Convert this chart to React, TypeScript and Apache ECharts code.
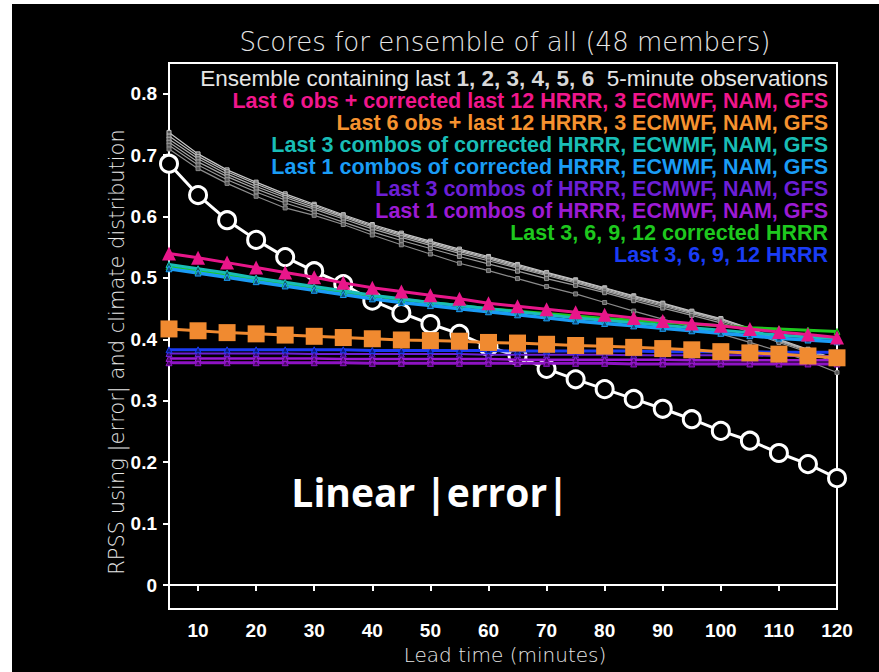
import React, { useEffect, useRef } from "react";
import * as echarts from "echarts";

const leadTimes = [5, 10, 15, 20, 25, 30, 35, 40, 45, 50, 55, 60, 65, 70, 75, 80, 85, 90, 95, 100, 105, 110, 115, 120];
const xTickValues = [10, 20, 30, 40, 50, 60, 70, 80, 90, 100, 110, 120];
const yTickValues = [0, 0.1, 0.2, 0.3, 0.4, 0.5, 0.6, 0.7, 0.8];

const obsOnly = [0.686, 0.635, 0.594, 0.562, 0.534, 0.511, 0.49, 0.463, 0.443, 0.425, 0.409, 0.388, 0.373, 0.352, 0.335, 0.319, 0.303, 0.287, 0.27, 0.251, 0.235, 0.215, 0.197, 0.174];
const ens1 = [0.737, 0.702, 0.676, 0.656, 0.637, 0.62, 0.603, 0.587, 0.573, 0.56, 0.547, 0.535, 0.522, 0.509, 0.497, 0.484, 0.471, 0.459, 0.446, 0.434, 0.418, 0.4, 0.384, 0.367];
const ens2 = [0.731, 0.698, 0.673, 0.653, 0.634, 0.618, 0.601, 0.585, 0.571, 0.558, 0.545, 0.533, 0.52, 0.508, 0.496, 0.483, 0.47, 0.458, 0.445, 0.433, 0.417, 0.399, 0.383, 0.366];
const ens3 = [0.726, 0.694, 0.669, 0.649, 0.631, 0.615, 0.599, 0.583, 0.569, 0.556, 0.543, 0.531, 0.518, 0.506, 0.494, 0.481, 0.468, 0.456, 0.444, 0.432, 0.416, 0.398, 0.382, 0.365];
const ens4 = [0.721, 0.689, 0.665, 0.645, 0.627, 0.612, 0.596, 0.58, 0.566, 0.553, 0.54, 0.528, 0.516, 0.504, 0.492, 0.479, 0.466, 0.454, 0.442, 0.43, 0.414, 0.397, 0.381, 0.364];
const ens5 = [0.716, 0.684, 0.66, 0.64, 0.622, 0.607, 0.591, 0.575, 0.561, 0.548, 0.535, 0.523, 0.511, 0.499, 0.488, 0.476, 0.463, 0.451, 0.439, 0.427, 0.412, 0.395, 0.379, 0.362];
const ens6 = [0.71, 0.678, 0.654, 0.633, 0.614, 0.602, 0.587, 0.57, 0.554, 0.539, 0.524, 0.512, 0.499, 0.486, 0.474, 0.46, 0.446, 0.433, 0.42, 0.409, 0.395, 0.381, 0.365, 0.346];
const obsCorrHrrr = [0.54, 0.533, 0.525, 0.517, 0.509, 0.501, 0.492, 0.484, 0.478, 0.472, 0.466, 0.459, 0.454, 0.449, 0.444, 0.44, 0.435, 0.43, 0.426, 0.422, 0.417, 0.412, 0.408, 0.403];
const obsHrrr = [0.417, 0.414, 0.411, 0.409, 0.407, 0.405, 0.403, 0.401, 0.399, 0.398, 0.397, 0.395, 0.394, 0.392, 0.39, 0.389, 0.387, 0.385, 0.383, 0.38, 0.378, 0.376, 0.373, 0.37];
const last3CorrCombos = [0.522, 0.515, 0.508, 0.5, 0.493, 0.486, 0.479, 0.472, 0.466, 0.46, 0.455, 0.45, 0.445, 0.44, 0.435, 0.431, 0.427, 0.423, 0.419, 0.415, 0.411, 0.407, 0.404, 0.401];
const last1CorrCombos = [0.515, 0.508, 0.501, 0.494, 0.487, 0.48, 0.473, 0.466, 0.46, 0.455, 0.45, 0.445, 0.44, 0.435, 0.43, 0.426, 0.422, 0.418, 0.414, 0.41, 0.406, 0.402, 0.399, 0.396];
const last3Combos = [0.377, 0.377, 0.377, 0.377, 0.377, 0.376, 0.376, 0.376, 0.376, 0.376, 0.376, 0.375, 0.375, 0.375, 0.375, 0.375, 0.374, 0.374, 0.374, 0.374, 0.374, 0.373, 0.373, 0.373];
const last1Combos = [0.369, 0.369, 0.369, 0.369, 0.369, 0.369, 0.368, 0.368, 0.368, 0.368, 0.368, 0.368, 0.367, 0.367, 0.367, 0.367, 0.367, 0.367, 0.366, 0.366, 0.366, 0.366, 0.366, 0.366];
const last1CombosB = [0.362, 0.362, 0.362, 0.362, 0.362, 0.362, 0.362, 0.361, 0.361, 0.361, 0.361, 0.361, 0.361, 0.361, 0.361, 0.361, 0.36, 0.36, 0.36, 0.36, 0.36, 0.36, 0.36, 0.36];
const corrHrrr = [0.518, 0.511, 0.504, 0.497, 0.49, 0.483, 0.477, 0.471, 0.465, 0.46, 0.455, 0.45, 0.446, 0.442, 0.438, 0.434, 0.431, 0.428, 0.425, 0.422, 0.419, 0.417, 0.415, 0.413];
const hrrr = [0.383, 0.383, 0.383, 0.383, 0.383, 0.383, 0.383, 0.382, 0.382, 0.382, 0.382, 0.382, 0.381, 0.381, 0.381, 0.381, 0.381, 0.38, 0.38, 0.38, 0.38, 0.379, 0.379, 0.379];

const legendLines = [
  { text: "Last 6 obs + corrected last 12 HRRR, 3 ECMWF, NAM, GFS", color: "#f0168c" },
  { text: "Last 6 obs + last 12 HRRR, 3 ECMWF, NAM, GFS", color: "#f5922f" },
  { text: "Last 3 combos of corrected HRRR, ECWMF, NAM, GFS", color: "#19bdb6" },
  { text: "Last 1 combos of corrected HRRR, ECWMF, NAM, GFS", color: "#1a9cf5" },
  { text: "Last 3 combos of HRRR, ECMWF, NAM, GFS", color: "#6c1fd6" },
  { text: "Last 1 combos of HRRR, ECMWF, NAM, GFS", color: "#9c1ad4" },
  { text: "Last 3, 6, 9, 12 corrected HRRR", color: "#1ec81e" },
  { text: "Last 3, 6, 9, 12 HRRR", color: "#1a3cf5" },
];

export default function App() {
  const ref = useRef<HTMLDivElement>(null);
  useEffect(() => {
    const chart = echarts.init(ref.current!, undefined, { renderer: "svg" });
    const pts = (d: number[]) => leadTimes.map((t, i) => [t, d[i]]);
    const small = (name: string, d: number[], color: string, dark: string, width: number, z: number) => ({
      type: "line",
      name,
      data: pts(d),
      z,
      symbol: "triangle",
      symbolSize: 6,
      lineStyle: { color, width },
      itemStyle: { color: dark, borderColor: color, borderWidth: 1 },
    });
    const gray = (name: string, d: number[], color: string) => ({
      type: "line",
      name,
      data: pts(d),
      z: 2,
      symbol: "rect",
      symbolSize: 4,
      lineStyle: { color, width: 1.2 },
      itemStyle: { color: "#555", borderColor: color, borderWidth: 1 },
    });
    const font = "Liberation Sans";
    const graphics: any[] = [
      {
        type: "text",
        x: 493,
        y: 38,
        style: { text: "Scores for ensemble of all (48 members)", fill: "#e6e6e6", fontFamily: "DejaVu Sans", fontSize: 26, fontWeight: 200, align: "center", verticalAlign: "middle" },
      },
      {
        type: "text",
        x: 493,
        y: 651,
        style: { text: "Lead time (minutes)", fill: "#e6e6e6", fontFamily: "DejaVu Sans", fontSize: 20, fontWeight: 300, align: "center", verticalAlign: "middle" },
      },
      {
        type: "text",
        x: 105,
        y: 348,
        rotation: Math.PI / 2,
        style: { text: "RPSS using |error| and climate distribution", fill: "#e6e6e6", fontFamily: "DejaVu Sans", fontSize: 21, fontWeight: 300, align: "center", verticalAlign: "middle" },
      },
      {
        type: "text",
        x: 418,
        y: 487,
        z: 50,
        style: { text: "Linear |error|", fill: "#ffffff", fontFamily: "Open Sans", fontSize: 39, fontWeight: "bold", align: "center", verticalAlign: "middle" },
      },
      {
        type: "text",
        x: 816,
        y: 74,
        z: 50,
        style: {
          text: "{a|Ensemble containing last }{b|1, 2, 3, 4, 5, 6}{a|  5-minute observations}",
          align: "right",
          verticalAlign: "middle",
          rich: {
            a: { fill: "#e6e6e6", fontFamily: font, fontSize: 22.5 },
            b: { fill: "#d8d8d8", fontFamily: font, fontSize: 22.5, fontWeight: "bold" },
          },
        },
      },
      ...legendLines.map((l, i) => ({
        type: "text",
        x: 816,
        y: 97 + i * 22,
        z: 50,
        style: { text: l.text, fill: l.color, fontFamily: font, fontSize: 21.5, fontWeight: "bold", align: "right", verticalAlign: "middle" },
      })),
    ];
    const option: any = {
      animation: false,
      backgroundColor: "#000",
      grid: { left: 157, top: 59, width: 668, height: 546, show: true, borderColor: "#fff", borderWidth: 2, backgroundColor: "transparent" },
      xAxis: {
        type: "value",
        min: 5,
        max: 120,
        axisLine: { lineStyle: { color: "#fff", width: 2 } },
        axisTick: { length: 6, lineStyle: { color: "#fff", width: 2 }, customValues: xTickValues },
        axisLabel: { color: "#fff", fontFamily: font, fontSize: 19, fontWeight: "bold", margin: 12, customValues: xTickValues },
        splitLine: { show: false },
      },
      yAxis: {
        type: "value",
        min: -0.039,
        max: 0.85,
        axisLine: { show: true, lineStyle: { color: "#fff", width: 2 } },
        axisTick: { show: true, length: 6, lineStyle: { color: "#fff", width: 2 }, customValues: yTickValues },
        axisLabel: { color: "#fff", fontFamily: font, fontSize: 19, fontWeight: "bold", margin: 12, customValues: yTickValues, formatter: (v: number) => (v === 0 ? "0" : v.toFixed(1)) },
        splitLine: { show: false },
      },
      series: [
        {
          type: "line",
          name: "Obs only",
          data: pts(obsOnly),
          z: 1,
          symbol: "circle",
          symbolSize: 17,
          lineStyle: { color: "#fff", width: 3 },
          itemStyle: { color: "#000", borderColor: "#fff", borderWidth: 3 },
        },
        gray("Ensemble last 1", ens1, "#c8c8c8"),
        gray("Ensemble last 2", ens2, "#bbbbbb"),
        gray("Ensemble last 3", ens3, "#b0b0b0"),
        gray("Ensemble last 4", ens4, "#a4a4a4"),
        gray("Ensemble last 5", ens5, "#999999"),
        gray("Ensemble last 6", ens6, "#8c8c8c"),
        small("Last 1 combos of HRRR, ECMWF, NAM, GFS (b)", last1CombosB, "#8e12c4", "#4a0866", 3, 3),
        small("Last 1 combos of HRRR, ECMWF, NAM, GFS", last1Combos, "#9c1ad4", "#4f0a6e", 2.5, 3),
        small("Last 3 combos of HRRR, ECMWF, NAM, GFS", last3Combos, "#6c1fd6", "#35106b", 2, 3),
        small("Last 3, 6, 9, 12 HRRR", hrrr, "#1a3cf5", "#0c1d78", 3, 3),
        small("Last 3, 6, 9, 12 corrected HRRR", corrHrrr, "#1ec81e", "#0e640e", 3, 4),
        small("Last 3 combos of corrected HRRR, ECWMF, NAM, GFS", last3CorrCombos, "#19bdb6", "#0c5e5a", 3, 4),
        small("Last 1 combos of corrected HRRR, ECWMF, NAM, GFS", last1CorrCombos, "#1a9cf5", "#0d4e7a", 3.5, 4),
        {
          type: "line",
          name: "Last 6 obs + last 12 HRRR, 3 ECMWF, NAM, GFS",
          data: pts(obsHrrr),
          z: 5,
          symbol: "rect",
          symbolSize: 17,
          lineStyle: { color: "#f08a30", width: 3 },
          itemStyle: { color: "#f08a30" },
        },
        {
          type: "line",
          name: "Last 6 obs + corrected last 12 HRRR, 3 ECMWF, NAM, GFS",
          data: pts(obsCorrHrrr),
          z: 6,
          symbol: "triangle",
          symbolSize: 14,
          lineStyle: { color: "#e8168a", width: 3 },
          itemStyle: { color: "#e8168a" },
        },
      ],
      graphic: graphics,
    };
    chart.setOption(option);
    return () => chart.dispose();
  }, []);
  return <div ref={ref} style={{ position: "absolute", left: 12, top: 4, width: 867, height: 668, background: "#000" }} />;
}
